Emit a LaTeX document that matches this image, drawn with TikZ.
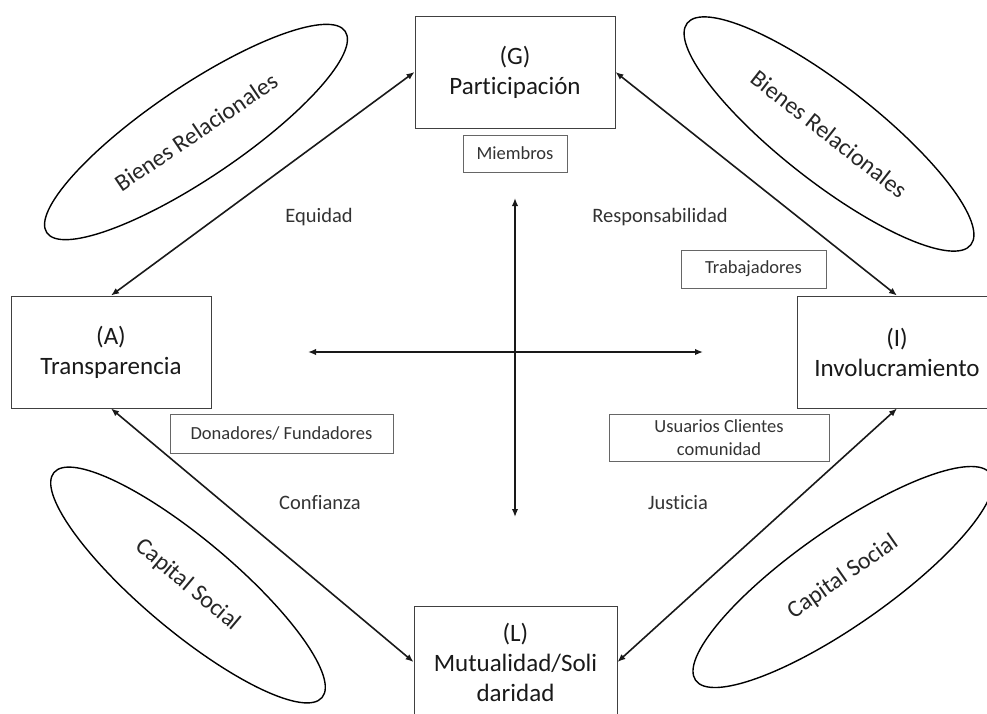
\documentclass[tikz,border=0pt]{standalone}
\usepackage{fontspec}
\setmainfont{Carlito}[Ligatures=NoCommon]
\usetikzlibrary{arrows.meta,shapes.geometric}

\begin{document}
\begin{tikzpicture}[x=1pt,y=-1pt,
  mainbox/.style={draw=black!75, line width=0.9pt, align=center, inner sep=0pt,
    minimum width=200pt, minimum height=112pt, text=black!90,
    font=\fontsize{25}{30}\selectfont},
  tagbox/.style={draw=black!60, line width=0.8pt, align=center, inner sep=0pt,
    text=black!80, font=\fontsize{18.5}{23}\selectfont},
  valuelabel/.style={text=black!80, font=\fontsize{20.5}{24}\selectfont},
  goodsoval/.style={draw=black, line width=1.4pt, ellipse, inner sep=0pt,
    text=black!85, font=\fontsize{24}{28}\selectfont},
  biarrow/.style={draw=black!90, line width=1.6pt,
    {Latex[length=8pt,width=6.5pt]}-{Latex[length=8pt,width=6.5pt]}}
]
\useasboundingbox (0,0) rectangle (987,713);

% the four AGIL functions
\node[mainbox] (G) at (515,72) {(G)\\Participación};
\node[mainbox] (A) at (111,352) {(A)\\Transparencia};
\node[mainbox] (I) at (897,352) {(I)\\Involucramiento};
\node[mainbox, minimum width=203pt] (L) at (515.5,662) {(L)\\Mutualidad/Soli\\daridad};

% stakeholders
\node[tagbox, minimum width=104pt, minimum height=37pt] (miem) at (515,153.5) {Miembros};
\node[tagbox, minimum width=223pt, minimum height=39pt] (dona) at (281.5,433.5) {Donadores/ Fundadores};
\node[tagbox, minimum width=145pt, minimum height=38pt] (trab) at (753.5,269) {Trabajadores};
\node[tagbox, minimum width=220pt, minimum height=47pt] (usua) at (719,437.5) {Usuarios Clientes\\comunidad};

% values
\node[valuelabel] (equi) at (319,217) {Equidad};
\node[valuelabel] (resp) at (660,217) {Responsabilidad};
\node[valuelabel] (conf) at (320,503) {Confianza};
\node[valuelabel] (just) at (678,503) {Justicia};

% relational goods and social capital
\node[goodsoval, minimum width=360pt, minimum height=92pt, rotate=34] (brl) at (196,132) {Bienes Relacionales};
\node[goodsoval, minimum width=360pt, minimum height=96pt, rotate=-38] (brr) at (829,134) {Bienes Relacionales};
\node[goodsoval, minimum width=350pt, minimum height=92pt, rotate=-40] (csl) at (188,585) {Capital Social};
\node[goodsoval, minimum width=360pt, minimum height=96pt, rotate=35] (csr) at (843,577) {Capital Social};

% axes
\coordinate (hl) at (308,352);
\coordinate (hr) at (703,352);
\coordinate (vt) at (515,198);
\coordinate (vb) at (515,517);
\draw[biarrow] (hl) -- (hr);
\draw[biarrow] (vt) -- (vb);

% links between functions
\draw[biarrow] (A.north) -- (G.west);
\draw[biarrow] (G.east) -- (I.north);
\draw[biarrow] (A.south) -- (L.west);
\draw[biarrow] (I.south) -- (L.east);
\end{tikzpicture}
\end{document}
